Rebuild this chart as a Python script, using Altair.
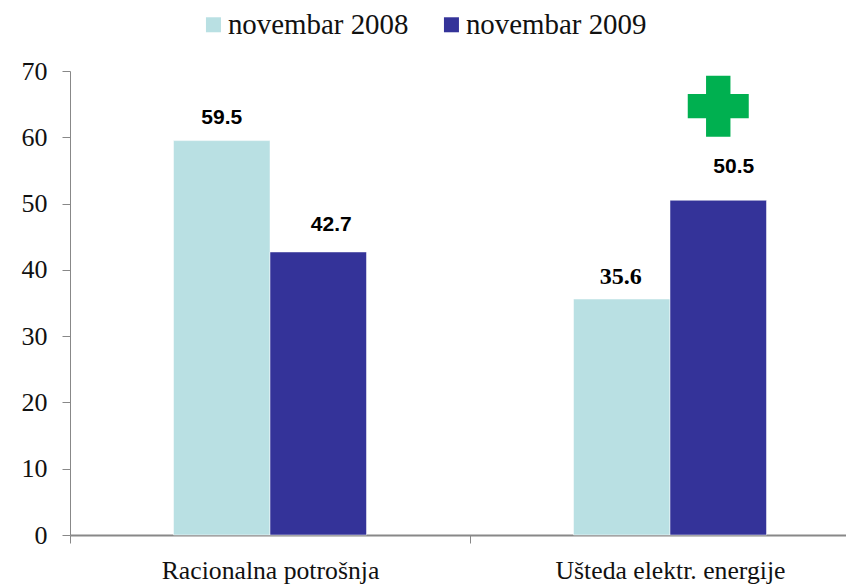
import altair as alt
import pandas as pd

categories = ["Racionalna potrošnja", "Ušteda elektr. energije"]
series = ["novembar 2008", "novembar 2009"]
values_2008 = [59.5, 35.6]
values_2009 = [42.7, 50.5]
y_ticks = [0, 10, 20, 30, 40, 50, 60, 70]
colors = ["#B9E0E3", "#343399"]
plus_value = [64.7]
SERIF = "Liberation Serif"

rows = []
for c, a, b in zip(categories, values_2008, values_2009):
    rows.append({"cat": c, "series": series[0], "v": a, "label": f"{a:.1f}"})
    rows.append({"cat": c, "series": series[1], "v": b, "label": f"{b:.1f}"})
df = pd.DataFrame(rows)

x = alt.X("cat:N", sort=categories, scale=alt.Scale(paddingInner=0, paddingOuter=0, range=[0, 800]),
          axis=alt.Axis(title=None, labelAngle=0, tickBand="extent", tickSize=8, tickColor="#888888",
                        domainColor="#888888", domainWidth=2, labelFont=SERIF, labelFontSize=25.7,
                        labelColor="#111111", labelPadding=15, grid=False, tickWidth=1, labelLimit=0))
xo = alt.XOffset("series:N", scale=alt.Scale(domain=["_a", *series, "_b"], paddingInner=0, paddingOuter=0.0725, range=[0, 400]))
y = alt.Y("v:Q", scale=alt.Scale(domain=[0, 70], nice=False),
          axis=alt.Axis(title=None, values=y_ticks, grid=False, tickSize=8, tickColor="#888888",
                        domainColor="#888888", labelFont=SERIF, labelFontSize=26,
                        labelColor="#111111", labelPadding=15))

bars = alt.Chart(df).mark_bar(stroke="#FFFFFF", strokeWidth=0.5).encode(
    x=x, xOffset=xo, y=y,
    color=alt.Color("series:N", sort=series, scale=alt.Scale(domain=series, range=colors),
                    legend=alt.Legend(title=None, orient="none", direction="horizontal", columns=2,
                                      legendX=129, legendY=-61, symbolType="square", symbolSize=225,
                                      symbolStrokeWidth=0, labelFont=SERIF, labelFontSize=28.9,
                                      labelColor="#111111", labelOffset=0, columnPadding=28, labelLimit=0)),
)

def lab(text, font, size, dx, dy):
    return alt.Chart(df[df.label == text]).mark_text(font=font, fontWeight="bold", fontSize=size, color="#000000", dx=dx, dy=dy).encode(
        x=alt.X("cat:N", sort=categories), xOffset=xo, y="v:Q", text="label:N")

t1 = lab("59.5", "Liberation Sans", 21, 0, -23)
t2 = lab("42.7", "Liberation Sans", 21, 13, -27)
t3 = lab("35.6", "Liberation Serif", 24, -1, -22)
t4 = lab("50.5", "Liberation Sans", 21, 15.5, -33)

plus_df = pd.DataFrame({"cat": [categories[1]], "series": [series[1]], "v": plus_value})
plus = alt.Chart(plus_df).mark_point(shape="cross", filled=True, size=3721, color="#00B050", opacity=1, dx=-9).encode(
    x=alt.X("cat:N", sort=categories), xOffset=xo, y="v:Q")

chart = alt.layer(bars, t1, t2, t3, t4, plus).properties(
    width=776, height=464, autosize=alt.AutoSizeParams(type="none"),
    padding={"left": 62, "top": 63, "right": 0, "bottom": 49}
).configure_view(stroke=None)
chart.save("out.html", embed_options={"renderer": "svg", "actions": False})
